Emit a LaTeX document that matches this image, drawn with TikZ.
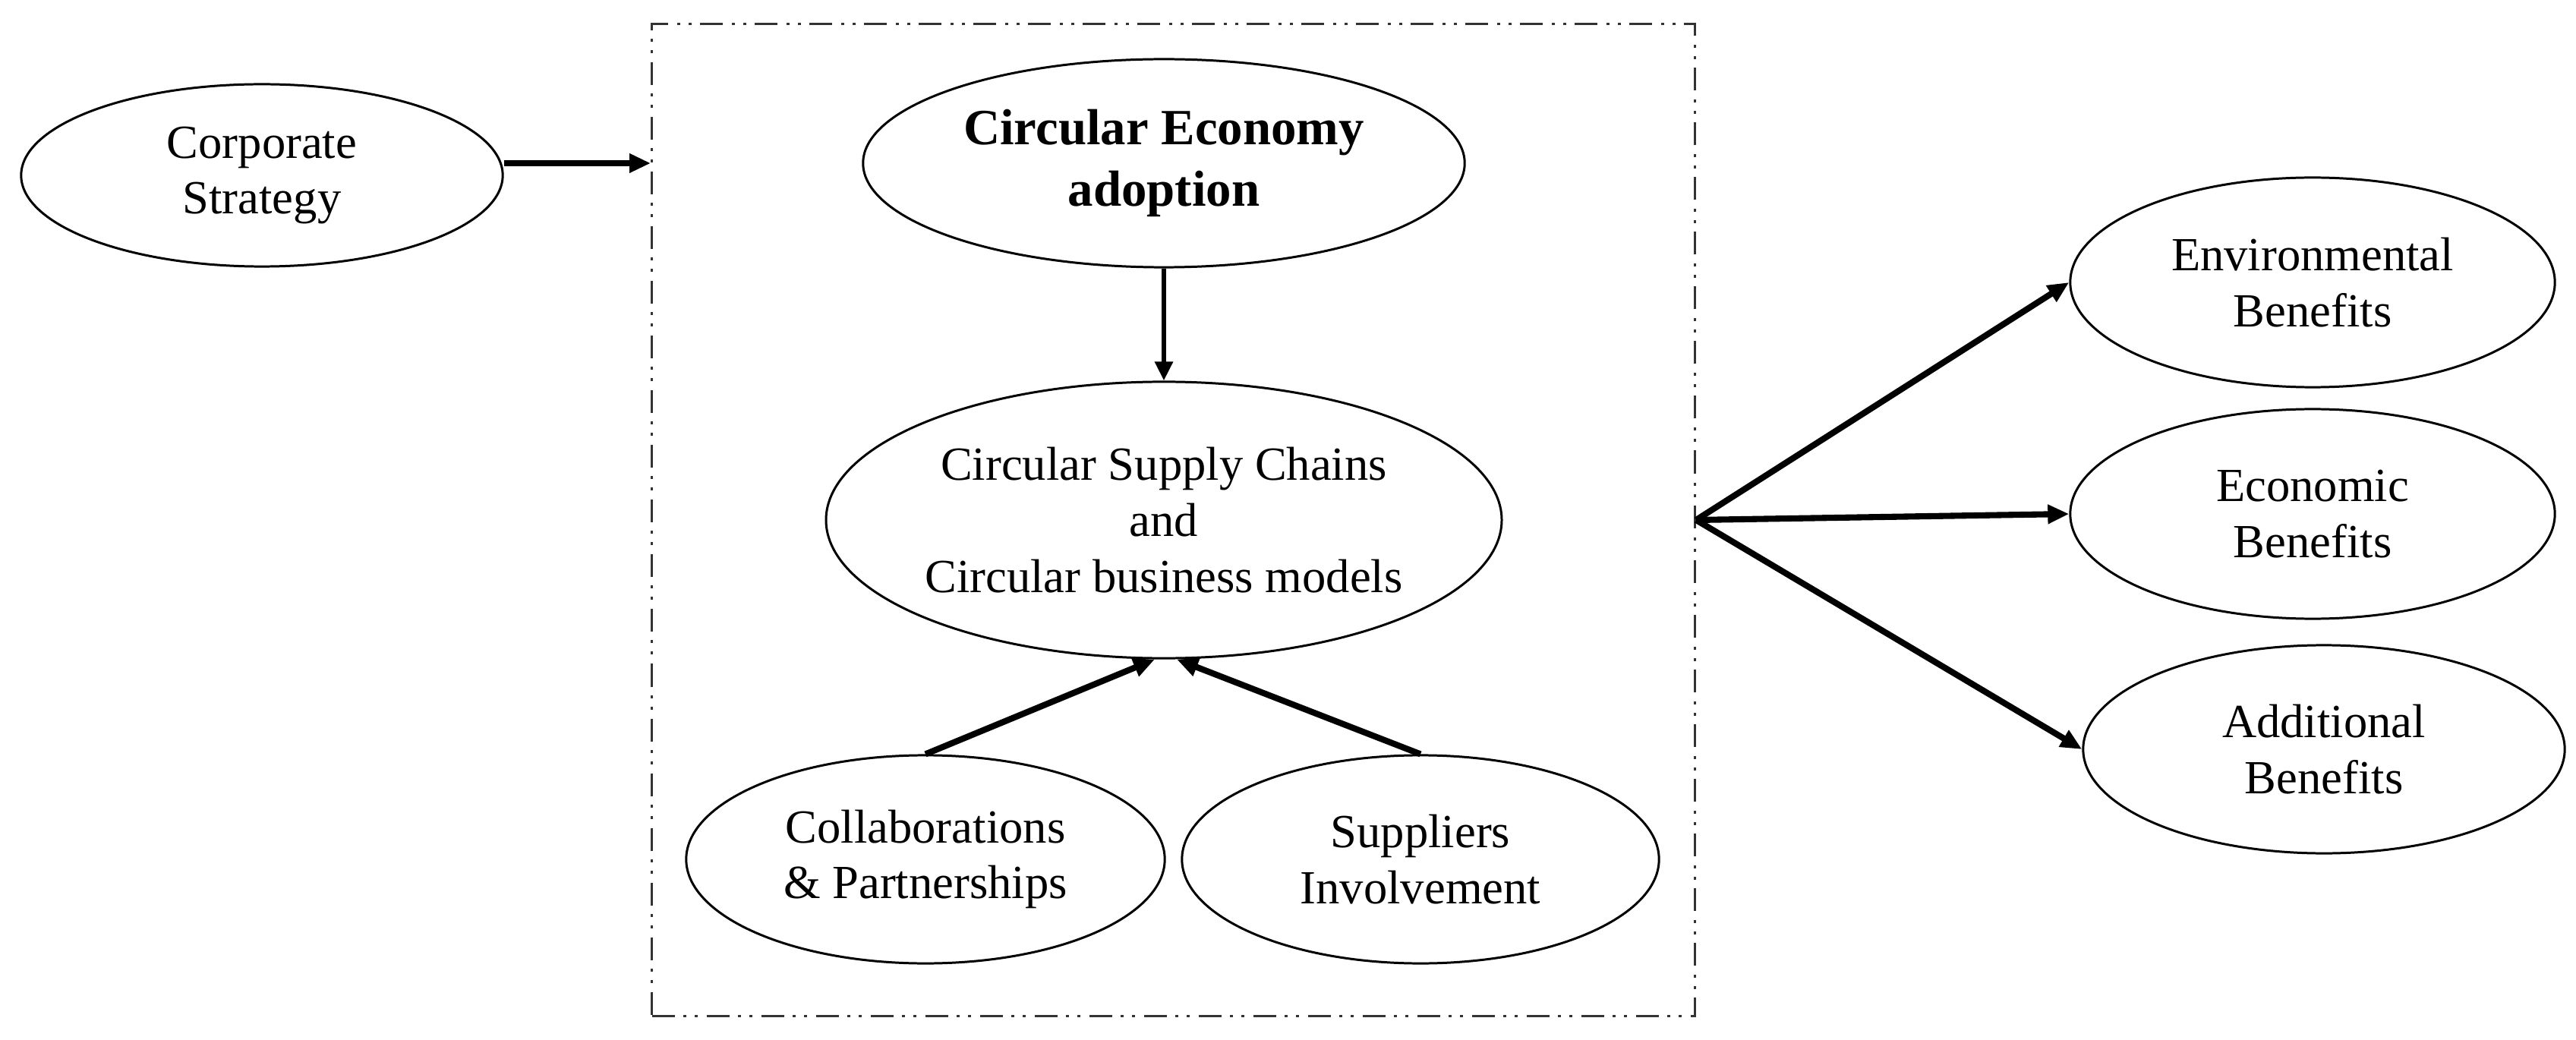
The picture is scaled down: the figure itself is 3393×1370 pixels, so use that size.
\documentclass[tikz,border=0pt]{standalone}
\usepackage{fontspec}
\setmainfont{Liberation Serif}
\usetikzlibrary{arrows.meta,shapes.geometric}
\begin{document}
\begin{tikzpicture}[x=0.01cm,y=-0.01cm,
  oval/.style={ellipse,draw=black,line width=0.85pt,inner sep=0pt,align=center,
    font=\fontsize{17.8}{21}\selectfont},
  framebox/.style={draw=black!80,line width=0.9pt,inner sep=0pt,
    dash pattern=on 0.30cm off 0.11cm on 0.04cm off 0.11cm on 0.04cm off 0.12cm},
  thickarr/.style={line width=2.3pt,-{Triangle[length=0.28cm,width=0.24cm]}},
  midarr/.style={line width=1.7pt,-{Triangle[length=0.25cm,width=0.23cm]}}]
\useasboundingbox (0,0) rectangle (3393,1370);
% frame
\node[framebox,minimum width=13.73cm,minimum height=13.07cm] (box) at (1545.5,685) {};
% nodes
\node[oval,minimum width=6.34cm,minimum height=2.40cm] (cs) at (345,231) {Corporate\\Strategy};
\node[oval,minimum width=7.92cm,minimum height=2.74cm,font=\fontsize{19}{22.8}\selectfont\bfseries] (ce) at (1533,215) {Circular Economy\\adoption};
\node[oval,minimum width=8.80cm,minimum height=3.64cm] (csc) at (1533,685) {Circular Supply Chains\\and\\Circular business models};
\node[oval,minimum width=6.30cm,minimum height=2.74cm] (col) at (1219,1132) {Collaborations\\\& Partnerships};
\node[oval,minimum width=6.28cm,minimum height=2.74cm] (sup) at (1871,1132) {Suppliers\\Involvement};
\node[oval,minimum width=6.38cm,minimum height=2.76cm] (env) at (3046,372) {Environmental\\Benefits};
\node[oval,minimum width=6.38cm,minimum height=2.76cm] (eco) at (3046,677) {Economic\\Benefits};
\node[oval,minimum width=6.34cm,minimum height=2.74cm] (add) at (3061,987) {Additional\\Benefits};
% connectors
\draw[thickarr] ([yshift=0.16cm]cs.east) coordinate (csout) -- (csout -| box.west);
\draw[midarr] (ce.south) -- (csc.north);
\draw[thickarr] (col.north) -- ([xshift=-0.12cm]csc.south);
\draw[thickarr] (sup.north) -- ([xshift=0.17cm]csc.south);
\draw[thickarr] (box.east) -- (env.west);
\draw[thickarr] (box.east) -- (eco.west);
\draw[thickarr] (box.east) -- (add.west);
\end{tikzpicture}
\end{document}
